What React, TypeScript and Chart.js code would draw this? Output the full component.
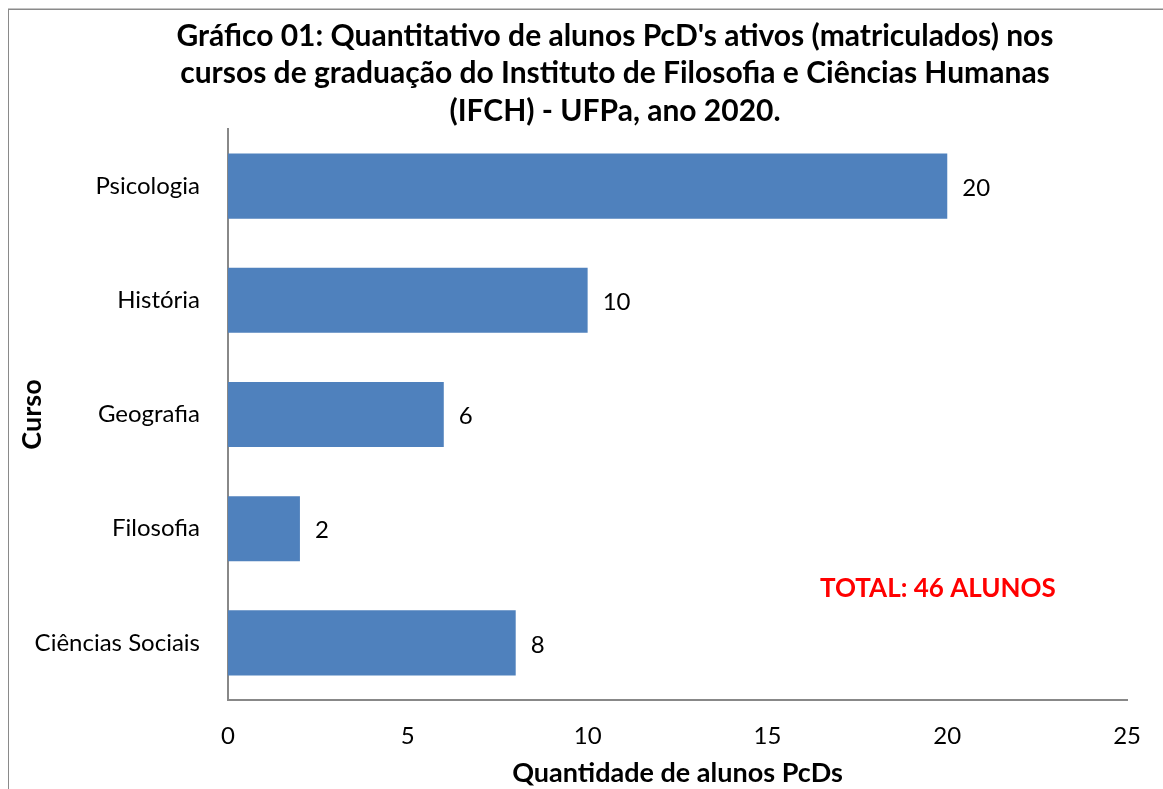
import React, { useEffect, useRef } from "react";
import { Chart, registerables } from "chart.js";

Chart.register(...registerables);

const categories = ["Psicologia", "História", "Geografia", "Filosofia", "Ciências Sociais"];
const values = [20, 10, 6, 2, 8];
const titleLines = [
  "Gráfico 01: Quantitativo de alunos PcD's ativos (matriculados) nos",
  "cursos de graduação do Instituto de Filosofia e Ciências Humanas",
  "(IFCH) - UFPa, ano 2020.",
];
const xTitle = "Quantidade de alunos PcDs";
const yTitle = "Curso";
const totalText = "TOTAL: 46 ALUNOS";
const xMin = 0;
const xMax = 25;
const xStep = 5;

const FONT = "Lato, 'Open Sans', sans-serif";

const overlayPlugin = {
  id: "overlay",
  beforeDraw(chart: any) {
    const ctx = chart.ctx;
    ctx.save();
    ctx.fillStyle = "#ffffff";
    ctx.fillRect(0, 0, chart.width, chart.height);
    ctx.strokeStyle = "#8a8a8a";
    ctx.lineWidth = 1.5;
    ctx.strokeRect(0.25, 1.25, chart.width + 40, chart.height + 40);
    ctx.restore();
  },
  afterDraw(chart: any) {
    const ctx = chart.ctx;
    const area = chart.chartArea;
    ctx.save();
    // title
    ctx.fillStyle = "#000000";
    ctx.font = `bold 30px ${FONT}`;
    ctx.textAlign = "center";
    ctx.textBaseline = "middle";
    titleLines.forEach((line, i) => {
      ctx.fillText(line, 607, 28 + i * 37.5);
    });
    // data labels
    const meta = chart.getDatasetMeta(0);
    ctx.font = `24px ${FONT}`;
    ctx.textAlign = "left";
    meta.data.forEach((bar: any, i: number) => {
      ctx.fillText(String(values[i]), bar.x + 15, bar.y + 2);
    });
    // total annotation
    ctx.fillStyle = "#ff0000";
    ctx.font = `bold 26px ${FONT}`;
    ctx.fillText(totalText, area.left + 592, 581);
    ctx.restore();
  },
};

export default function App() {
  const canvasRef = useRef<HTMLCanvasElement | null>(null);

  useEffect(() => {
    document.body.style.overflow = "hidden";
    const canvas = canvasRef.current;
    if (!canvas) return;
    const chart = new Chart(canvas, {
      type: "bar",
      data: {
        labels: categories,
        datasets: [
          {
            data: values,
            backgroundColor: "#4F81BD",
            borderWidth: 0,
            barPercentage: 0.57,
            categoryPercentage: 1,
          },
        ],
      },
      options: {
        indexAxis: "y",
        animation: false,
        responsive: false,
        maintainAspectRatio: false,
        layout: { padding: { top: 121, right: 34, bottom: 0, left: 0 } },
        plugins: {
          legend: { display: false },
          title: { display: false },
          tooltip: { enabled: false },
        },
        scales: {
          x: {
            min: xMin,
            max: xMax,
            grid: { display: false, drawTicks: false },
            border: { display: true, color: "#888888", width: 2 },
            ticks: {
              stepSize: xStep,
              color: "#000000",
              padding: 22,
              font: { family: FONT, size: 24 },
            },
            title: {
              display: true,
              text: xTitle,
              color: "#000000",
              font: { family: FONT, size: 27, weight: "bold" },
              padding: { top: 0, bottom: 0 },
            },
            afterFit: (scale: any) => {
              scale.height = 89;
            },
          },
          y: {
            grid: { display: false, drawTicks: false },
            border: { display: true, color: "#888888", width: 2 },
            ticks: {
              color: "#000000",
              padding: 28,
              font: { family: FONT, size: 24 },
            },
            title: {
              display: true,
              text: yTitle,
              color: "#000000",
              font: { family: FONT, size: 27, weight: "bold" },
              padding: { top: 8, bottom: 0 },
            },
            afterFit: (scale: any) => {
              scale.width = 220;
            },
          },
        },
      },
      plugins: [overlayPlugin],
    });
    return () => chart.destroy();
  }, []);

  return (
    <div style={{ position: "absolute", left: 8, top: 8, width: 1155, height: 781 }}>
      <canvas ref={canvasRef} width={1155} height={781} style={{ display: "block" }} />
    </div>
  );
}
